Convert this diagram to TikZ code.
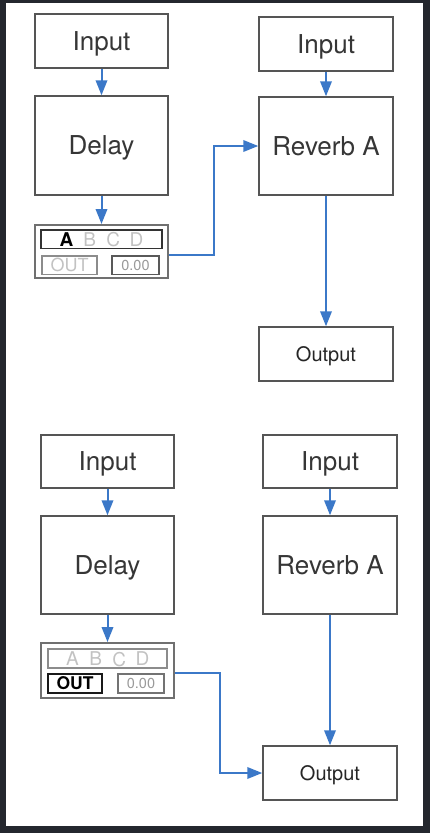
\documentclass[tikz,border=0pt]{standalone}
\usepackage{fontspec}
\setmainfont{TeX Gyre Heros}
\usetikzlibrary{arrows.meta}
\definecolor{frame}{HTML}{24272E}
\definecolor{flow}{HTML}{3B78C8}
\definecolor{boxline}{HTML}{555555}
\definecolor{modline}{HTML}{707070}
\definecolor{txt}{HTML}{363636}
\definecolor{faint}{HTML}{C2C2C2}
\definecolor{valtxt}{HTML}{9A9A9A}
\begin{document}
\begin{tikzpicture}[x=1pt,y=-1pt,
  blk/.style={draw=boxline,line width=1.5pt,fill=white,inner sep=0pt,minimum width=133pt,
    text depth=0pt,text=txt,font=\fontsize{26pt}{30pt}\selectfont},
  outblk/.style={blk,minimum height=54pt,font=\fontsize{20pt}{24pt}\selectfont,text=black!85},
  modbox/.style={draw=modline,line width=2pt,fill=white,inner sep=0pt,minimum width=133pt},
  subbox/.style={line width=1.5pt,inner sep=0pt,minimum height=18.5pt,text depth=0pt},
  letter/.style={inner sep=0pt,text depth=0pt,font=\fontsize{19pt}{22pt}\selectfont,text=faint},
  outlbl/.style={font=\fontsize{18pt}{21pt}\selectfont},
  vallbl/.style={font=\fontsize{14.5pt}{17pt}\selectfont,text=valtxt},
  flowline/.style={draw=flow,line width=2pt,-{Triangle[length=15pt,width=11.5pt]}}
]
% frame and page
\fill[frame] (0,0) rectangle (430,833);
\fill[white] (6,3) rectangle (422.5,826);

% ---------- top half ----------
\node[blk,minimum height=54pt] (in1) at (101.5,41) {Input};
\node[blk,minimum height=99pt] (del1) at (101.5,145.5) {Delay};
\node[modbox,minimum height=53pt] (mod1) at (101.5,251.5) {};
\node[subbox,draw=black!80,minimum width=121pt] (abcd1) at (101.5,239) {};
\node[letter,text=black,font=\fontsize{19pt}{22pt}\selectfont\bfseries] (la1) at (66.5,239.5) {A};
\node[letter] (lb1) at (89.8,239.5) {B};
\node[letter] (lc1) at (113.2,239.5) {C};
\node[letter] (ld1) at (136.5,239.5) {D};
\node[subbox,draw=black!45,minimum width=55pt,outlbl,text=faint] (out1) at (69.5,265) {OUT};
\node[subbox,draw=black!65,minimum width=47pt,vallbl] (val1) at (135.5,265) {0.00};

\node[blk,minimum height=54pt,minimum width=134pt] (in2) at (326,44) {Input};
\node[blk,minimum height=98pt,minimum width=134pt] (rev1) at (326,146) {Reverb A};
\node[outblk,minimum width=134pt] (outA) at (326,354) {Output};

\coordinate (bend1) at (214,146);
\draw[flowline] (in1) -- (del1);
\draw[flowline] (del1) -- (mod1);
\draw[flowline] ([yshift=-3.5pt]mod1.east) -| (bend1) -- (rev1.west);
\draw[flowline] (in2) -- (rev1);
\draw[flowline] (rev1) -- (outA);

% ---------- bottom half ----------
\node[blk,minimum height=53pt] (in3) at (107.5,461.5) {Input};
\node[blk,minimum height=98pt] (del2) at (107.5,565) {Delay};
\node[modbox,minimum height=55pt] (mod2) at (107.5,670.5) {};
\node[subbox,draw=black!45,minimum width=119pt,minimum height=19pt] (abcd2) at (107.5,658.5) {};
\node[letter] (la2) at (72.5,659) {A};
\node[letter] (lb2) at (95.8,659) {B};
\node[letter] (lc2) at (119.2,659) {C};
\node[letter] (ld2) at (142.5,659) {D};
\node[subbox,draw=black!90,line width=2pt,minimum width=54pt,minimum height=19pt,outlbl,text=black,font=\fontsize{17.5pt}{21pt}\selectfont\bfseries] (out2) at (75,683.5) {OUT};
\node[subbox,draw=black!55,minimum width=46pt,minimum height=19pt,vallbl] (val2) at (141,683.5) {0.00};

\node[blk,minimum height=53pt,minimum width=134pt] (in4) at (330,461.5) {Input};
\node[blk,minimum height=98pt,minimum width=134pt] (rev2) at (330,565) {Reverb A};
\node[outblk,minimum width=134pt] (outB) at (330,773) {Output};

\coordinate (bend2) at (220,773);
\draw[flowline] (in3) -- (del2);
\draw[flowline] (del2) -- (mod2);
\draw[flowline] ([yshift=-2.5pt]mod2.east) -| (bend2) -- (outB.west);
\draw[flowline] (in4) -- (rev2);
\draw[flowline] (rev2) -- (outB);
\end{tikzpicture}
\end{document}
